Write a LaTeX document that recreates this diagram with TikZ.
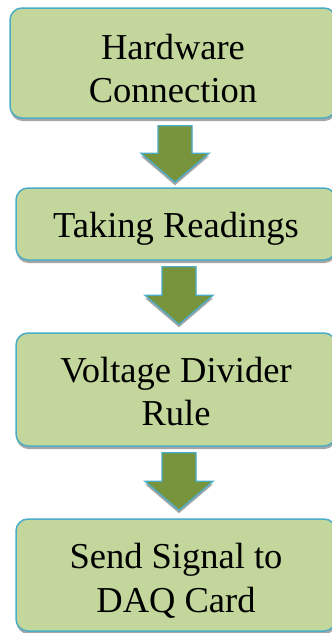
\documentclass[tikz,border=0pt]{standalone}
\usepackage{fontspec}
\setmainfont{Liberation Serif}
\usetikzlibrary{shadows,calc}
\definecolor{boxfill}{HTML}{C3D69B}
\definecolor{boxline}{HTML}{4BACC6}
\definecolor{arrowfill}{HTML}{77933C}
\definecolor{shadowgray}{HTML}{A6A6A6}
\tikzset{
  stepbox/.style={rectangle, rounded corners=12pt, draw=boxline, line width=1.5pt,
    fill=boxfill, inner sep=0pt,
    drop shadow={shadow xshift=0.5pt, shadow yshift=-3pt, fill=shadowgray, opacity=1}},
  blockarrow/.style={draw=boxline, line width=1.3pt, fill=arrowfill, line join=miter,
    drop shadow={shadow xshift=0pt, shadow yshift=-3pt, fill=shadowgray, opacity=1}},
  lbl/.style={inner sep=0pt, anchor=base, font=\fontsize{36.5}{43}\selectfont}
}
\begin{document}
\begin{tikzpicture}[x=1pt,y=-1pt]
\clip (0,0) rectangle (332,633);
\fill[white] (0,0) rectangle (332,633);
% boxes
\node[stepbox, minimum width=326pt, minimum height=110pt] (b1) at (173,63) {};
\node[stepbox, minimum width=320pt, minimum height=72pt] (b2) at (176,224) {};
\node[stepbox, minimum width=320pt, minimum height=113pt] (b3) at (176,389.5) {};
\node[stepbox, minimum width=320pt, minimum height=112pt] (b4) at (176,575) {};
% labels
\node[lbl] (t1a) at ($(b1.center)+(0,-4)$) {Hardware};
\node[lbl] (t1b) at ($(b1.center)+(0,39)$) {Connection};
\node[lbl] (t2a) at ($(b2.center)+(0,13)$) {Taking Readings};
\node[lbl] (t3a) at ($(b3.center)+(0,-7.5)$) {Voltage Divider};
\node[lbl] (t3b) at ($(b3.center)+(0,35.5)$) {Rule};
\node[lbl] (t4a) at ($(b4.center)+(0,-7)$) {Send Signal to};
\node[lbl] (t4b) at ($(b4.center)+(0,37)$) {DAQ Card};
% arrow end points
\coordinate (a1) at ($(b1.south)+(2,7)$);
\coordinate (p1) at ($(b2.north)+(-1,-5)$);
\coordinate (a2) at ($(b2.south)+(3,6)$);
\coordinate (p2) at ($(b3.north)+(3,-8)$);
\coordinate (a3) at ($(b3.south)+(3,6)$);
\coordinate (p3) at ($(b4.north)+(3,-8)$);
\foreach \s/\e in {a1/p1,a2/p2,a3/p3}{
  \draw[blockarrow] let \p1=(\s), \p2=(\e) in
    (\x2-17pt,\y1) -- (\x2+17pt,\y1) -- (\x2+17pt,\y2+29pt) -- (\x2+34pt,\y2+29pt)
    -- (\p2) -- (\x2-34pt,\y2+29pt) -- (\x2-17pt,\y2+29pt) -- cycle;
}
\end{tikzpicture}
\end{document}
